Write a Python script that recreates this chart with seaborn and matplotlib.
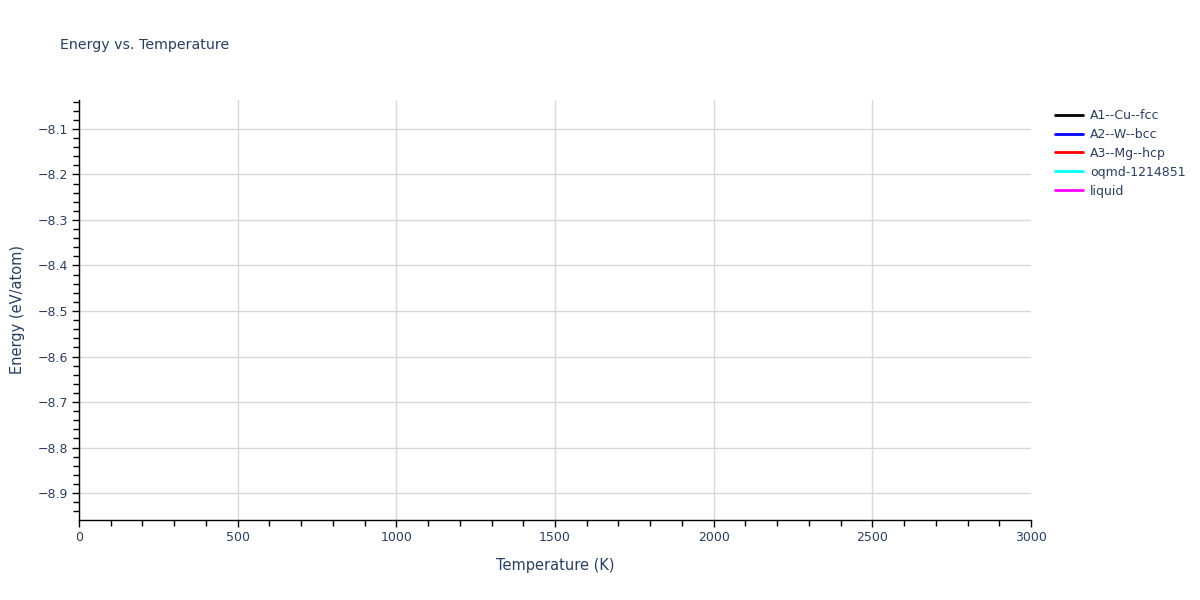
import matplotlib
matplotlib.use("Agg")
import matplotlib.pyplot as plt
from matplotlib.ticker import MultipleLocator
import seaborn as sns

# --- data: the reference shows no visible curves in this window, only legend entries ---
series_names = ["A1--Cu--fcc", "A2--W--bcc", "A3--Mg--hcp", "oqmd-1214851", "liquid"]
series_colors = ["black", "blue", "red", "cyan", "magenta"]
temperatures = [[], [], [], [], []]
energies = [[], [], [], [], []]

x_range = (0, 3000)
y_range = (-8.9593, -8.0363)

TEXT = "#2a3f5f"
GRID = "#d8d8d8"

sns.set_style("white")
plt.rcParams["font.family"] = ["DejaVu Sans"]

fig = plt.figure(figsize=(12, 6), dpi=100)
ax = fig.add_axes([79 / 1200, 80 / 600, 952 / 1200, 420 / 600])

for name, color, t, e in zip(series_names, series_colors, temperatures, energies):
    ax.plot(t, e, color=color, lw=2, label=name)

ax.set_xlim(*x_range)
ax.set_ylim(*y_range)

ax.xaxis.set_major_locator(MultipleLocator(500))
ax.xaxis.set_minor_locator(MultipleLocator(100))
ax.yaxis.set_major_locator(MultipleLocator(0.1))
ax.yaxis.set_minor_locator(MultipleLocator(0.02))

ax.grid(True, which="major", color=GRID, lw=1)
ax.set_axisbelow(True)

for side in ["top", "right"]:
    ax.spines[side].set_visible(False)
for side in ["bottom", "left"]:
    ax.spines[side].set_color("black")
    ax.spines[side].set_linewidth(1)

ax.tick_params(which="both", direction="out", color="black", width=1,
               labelsize=9, labelcolor=TEXT)
ax.tick_params(which="major", length=5)
ax.tick_params(which="minor", length=4)
ax.tick_params(axis="x", which="both", bottom=True, pad=3)
ax.tick_params(axis="y", which="both", left=True, pad=3)

ax.set_xlabel("Temperature (K)", fontsize=10.5, color=TEXT, labelpad=10)
ax.set_ylabel("Energy (eV/atom)", fontsize=10.5, color=TEXT, labelpad=9)

fig.text(60 / 1200, 1 - 45 / 600, "Energy vs. Temperature", fontsize=10.2,
         color=TEXT, va="center", ha="left")

leg = fig.legend(loc="upper left", bbox_to_anchor=(1050 / 1200, 1 - 104 / 600),
                 frameon=False, fontsize=9, handlelength=2.2, handletextpad=0.6,
                 labelspacing=0.47, borderaxespad=0)
for txt in leg.get_texts():
    txt.set_color(TEXT)

# no grid line on the far right edge
fig.canvas.draw()
for tick in ax.xaxis.get_major_ticks():
    if tick.get_loc() >= x_range[1]:
        tick.gridline.set_visible(False)

fig.savefig("out.png", dpi=100)
